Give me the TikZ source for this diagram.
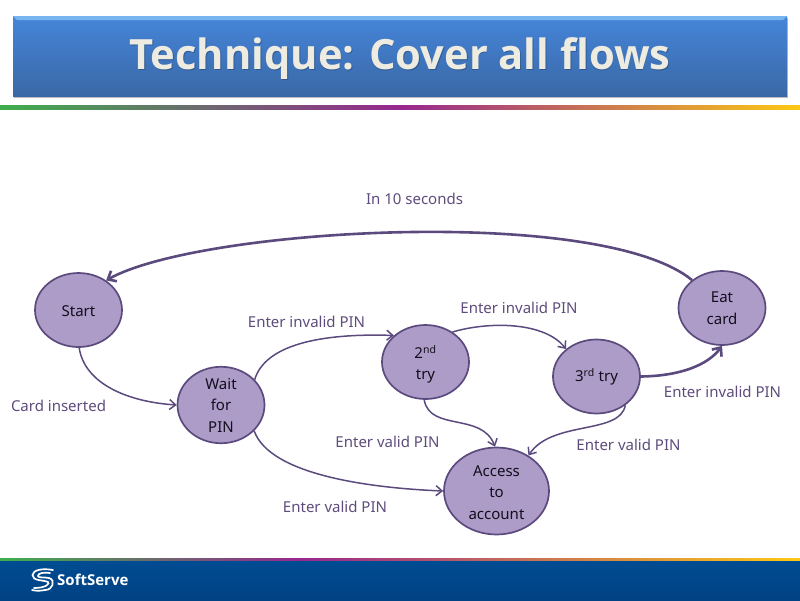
\documentclass[tikz,border=0pt]{standalone}
\usepackage{fontspec}
\setmainfont{Noto Sans}
\newfontfamily\titlefont{Open Sans}
\usetikzlibrary{shapes.geometric,arrows.meta,shadows}
\definecolor{nodefill}{HTML}{AE9CC8}
\definecolor{nodeline}{HTML}{5B4A7E}
\definecolor{labeltext}{HTML}{5E4C7C}
\definecolor{nodetext}{HTML}{120E1C}
\definecolor{barTop}{HTML}{4585D9}
\definecolor{barBot}{HTML}{3A68A6}
\definecolor{barHi}{HTML}{78B4F0}
\definecolor{titletext}{HTML}{EEECE1}
\definecolor{stripeG}{HTML}{3FAE4C}
\definecolor{stripeP}{HTML}{97288E}
\definecolor{stripeY}{HTML}{FDC813}
\definecolor{footA}{HTML}{004C92}
\definecolor{footB}{HTML}{004283}
\tikzset{
  state/.style={ellipse,draw=nodeline,line width=1.7pt,fill=nodefill,inner sep=0pt,
    minimum width=87pt,minimum height=74pt,align=center,text=nodetext,
    font=\fontsize{15}{21.5}\selectfont},
  lab/.style={text=labeltext,font=\fontsize{15}{18}\selectfont,inner sep=0pt},
  flow/.style={draw=nodeline,line width=1.5pt,-{Straight Barb[length=6pt,width=10pt]}},
  heavy/.style={draw=nodeline,line width=2.6pt,-{Straight Barb[length=7pt,width=12pt]}},
  titletype/.style={inner sep=0pt,font=\titlefont\bfseries\fontsize{41.7}{48}\selectfont},
}
\begin{document}
\begin{tikzpicture}[x=1pt,y=-1pt]
\useasboundingbox (0,0) rectangle (800,600);
% title bar
\fill[black!60,opacity=.45] (14,18) rectangle (788,97.5);
\fill[top color=barTop,bottom color=barBot] (13,16) rectangle (787,96);
\fill[barHi] (13,16) -- (787,16) -- (783,20) -- (17,20) -- cycle;
\node[titletype,text=black,opacity=.22] at (400.8,59.8) {Technique: Cover all flows};
\node (title) [titletype,text=titletext] at (400,59) {Technique: Cover all flows};
% stripes
\shade[left color=stripeG,right color=stripeP] (0,105) rectangle (400,109);
\shade[left color=stripeP,right color=stripeY] (400,105) rectangle (800,109);
% footer
\shade[left color=stripeG,right color=stripeP] (0,558) rectangle (300,561);
\shade[left color=stripeP,right color=stripeY] (300,558) rectangle (800,561);
\shade[top color=footA,bottom color=footB] (0,561) rectangle (800,600);
\draw[white,line width=1.7pt,line cap=round] (53,570) .. controls (42,568) and (33,570) .. (32.5,575) .. controls (32,581) and (44,580) .. (48,582) .. controls (50,583) and (47,588) .. (34,588);
\draw[white,line width=1.7pt,line cap=round] (50,573) .. controls (44,572) and (38,573) .. (38,576) .. controls (38,578) and (44,577) .. (49,578) .. controls (56,580) and (53,590) .. (45,590) .. controls (40,591) and (36,591) .. (32,590);
\node (brand) [inner sep=0pt,anchor=west,text=white,font=\titlefont\bfseries\fontsize{15}{16}\selectfont] at (57,580) {SoftServe};
% states
\node[state] (start) at (78.5,310) {\rule{0pt}{14pt}Start};
\node[state] (wait) at (221,405) {Wait\\for\\PIN};
\node[state] (second) at (425.5,362) {\rule{0pt}{18pt}2\textsuperscript{nd}\\try};
\node[state] (third) at (596.5,376.5) {3\textsuperscript{rd} try};
\node[state] (eat) at (722,308) {Eat\\card};
\node[state,minimum width=105pt,minimum height=87pt] (access) at (496.5,491) {\rule{0pt}{14pt}Access\\to\\account};
% flows
\path[flow] (start.271) .. controls (85,385) and (130,402) .. (wait.180);
\path[flow] (wait.37) .. controls (265,345) and (320,333) .. (second.140);
\path[flow] (wait.-38) .. controls (270,475) and (370,488) .. (access.180);
\path[flow] (second.48) .. controls (490,321) and (545,322) .. (third.138);
\path[flow] (second.268) .. controls (430,432) and (482,412) .. (access.92);
\path[flow] (third.-45) .. controls (620,435) and (552,420) .. (access.48);
\path[heavy] (third.0) .. controls (680,376) and (708,365) .. (eat.270);
\path[heavy] (eat.137) .. controls (600,205) and (200,228) .. (start.47);
% labels
\node[lab] (l1) at (414.5,198.5) {In 10 seconds};
\node[lab] (l2) at (58.5,406) {Card inserted};
\node[lab] (l3) at (306.5,322) {Enter invalid PIN};
\node[lab] (l4) at (519,308) {Enter invalid PIN};
\node[lab] (l5) at (722.5,392) {Enter invalid PIN};
\node[lab] (l6) at (387.5,442) {Enter valid PIN};
\node[lab] (l7) at (628.5,445) {Enter valid PIN};
\node[lab] (l8) at (335,507) {Enter valid PIN};
\end{tikzpicture}
\end{document}
